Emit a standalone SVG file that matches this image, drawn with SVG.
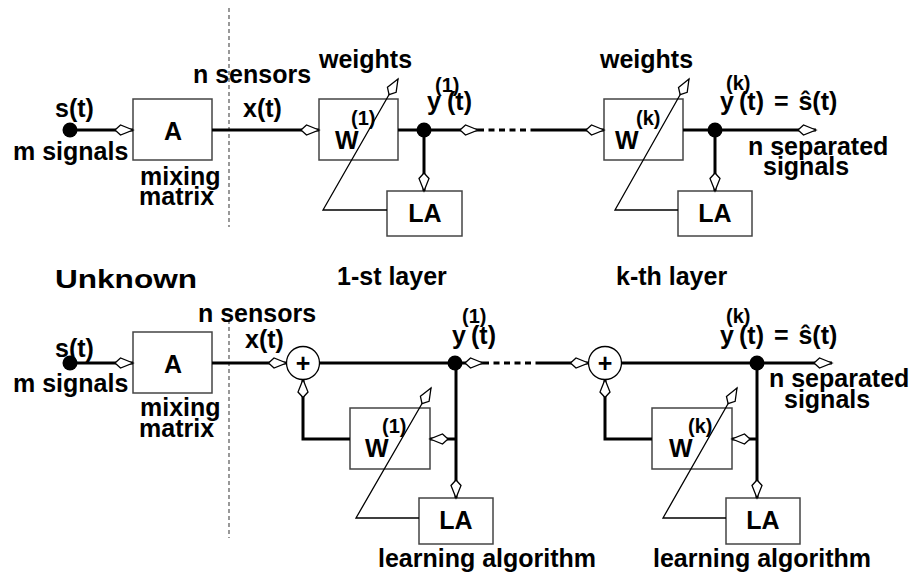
<svg xmlns="http://www.w3.org/2000/svg" width="912" height="577" viewBox="0 0 912 577">
<style>
text{font-family:"Liberation Sans",Arial,sans-serif;font-weight:bold;font-size:25px;fill:#000}
.sup{font-size:20px}
.mid{text-anchor:middle}
.box{fill:none;stroke:#444;stroke-width:1.5}
.wire{fill:none;stroke:#000;stroke-width:3}
.thin{fill:none;stroke:#000;stroke-width:1.3}
.dash{fill:none;stroke:#000;stroke-width:3;stroke-dasharray:6 4.5}
.sep{fill:none;stroke:#555;stroke-width:1.2;stroke-dasharray:4 3}
.dot{fill:#000}
.sum{fill:#fff;stroke:#000;stroke-width:1.3}
</style>
<defs>
<marker id="ah" markerUnits="userSpaceOnUse" markerWidth="22" markerHeight="12" viewBox="-20 -6 22 12" refX="0" refY="0" orient="auto" overflow="visible">
<path d="M0,0 L-12.5,-5 L-18,0 L-12.5,5 Z" fill="#fff" stroke="#000" stroke-width="1.3"/>
</marker>
</defs>
<rect width="912" height="577" fill="#fff"/>

<!-- separators -->
<line class="sep" x1="229" y1="8" x2="229" y2="227"/>
<line class="sep" x1="229" y1="320" x2="229" y2="538"/>

<!-- top row nodes -->
<g id="src-top">
<circle class="dot" cx="70" cy="130" r="7.5"/>
<text x="55" y="117">s(t)</text>
<text x="13" y="160">m signals</text>
</g>
<g id="A-top">
<rect class="box" x="133" y="99" width="79" height="61"/>
<text class="mid" x="173" y="140">A</text>
<text x="140" y="185">mixing</text>
<text x="139" y="205">matrix</text>
</g>
<g id="sensors-top">
<text x="193" y="83">n sensors</text>
<text x="243" y="117">x(t)</text>
</g>
<g id="W1-top">
<rect class="box" x="319" y="99" width="79" height="61"/>
<text x="335" y="149">W</text>
<text class="sup" x="351" y="125">(1)</text>
<text x="319" y="68">weights</text>
</g>
<g id="LA1-top">
<rect class="box" x="387" y="191" width="75" height="45"/>
<text class="mid" x="425" y="222">LA</text>
</g>
<g id="y1-top">
<text x="427" y="110">y<tspan class="sup" x="435" y="92">(1)</tspan><tspan x="447" y="110">(t)</tspan></text>
</g>
<g id="Wk-top">
<rect class="box" x="604" y="99" width="79" height="61"/>
<text x="615" y="149">W</text>
<text class="sup" x="636" y="125">(k)</text>
<text x="600" y="68">weights</text>
</g>
<g id="LAk-top">
<rect class="box" x="678" y="191" width="74" height="45"/>
<text class="mid" x="715" y="222">LA</text>
</g>
<g id="yk-top">
<text x="720" y="110">y<tspan class="sup" x="726" y="90">(k)</tspan><tspan x="739" y="110" word-spacing="3">(t) = ŝ(t)</tspan></text>
<text x="748" y="155">n separated</text>
<text x="763" y="175">signals</text>
</g>

<!-- labels between -->
<text x="55" y="288" font-size="28" textLength="142" lengthAdjust="spacingAndGlyphs">Unknown</text>
<text x="337" y="285">1-st layer</text>
<text x="616" y="285">k-th layer</text>

<!-- bottom row nodes -->
<g id="src-bot">
<circle class="dot" cx="70" cy="363" r="7.5"/>
<text x="55" y="357">s(t)</text>
<text x="13" y="392">m signals</text>
</g>
<g id="A-bot">
<rect class="box" x="133" y="332" width="79" height="61"/>
<text class="mid" x="173" y="373">A</text>
<text x="140" y="416">mixing</text>
<text x="139" y="437">matrix</text>
</g>
<g id="sensors-bot">
<text x="198" y="322">n sensors</text>
<text x="245" y="348">x(t)</text>
</g>
<g id="W1-bot">
<rect class="box" x="350" y="408" width="80" height="61"/>
<text x="365" y="457">W</text>
<text class="sup" x="382" y="433">(1)</text>
</g>
<g id="LA1-bot">
<rect class="box" x="419" y="498" width="74" height="46"/>
<text class="mid" x="456" y="529">LA</text>
<text x="378" y="567">learning algorithm</text>
</g>
<g id="y1-bot">
<text x="452" y="344">y<tspan class="sup" x="462" y="323">(1)</tspan><tspan x="471" y="344">(t)</tspan></text>
</g>
<g id="Wk-bot">
<rect class="box" x="652" y="408" width="80" height="61"/>
<text x="669" y="457">W</text>
<text class="sup" x="688" y="433">(k)</text>
</g>
<g id="LAk-bot">
<rect class="box" x="726" y="498" width="74" height="46"/>
<text class="mid" x="763" y="529">LA</text>
<text x="653" y="567">learning algorithm</text>
</g>
<g id="yk-bot">
<text x="720" y="344">y<tspan class="sup" x="726" y="323">(k)</tspan><tspan x="739" y="344" word-spacing="3">(t) = ŝ(t)</tspan></text>
<text x="769" y="387">n separated</text>
<text x="784" y="408">signals</text>
</g>

<!-- connectors -->
<g id="connectors">
<!-- top -->
<path class="wire" d="M70,130 H133" marker-end="url(#ah)"/>
<path class="wire" d="M212,130 H319" marker-end="url(#ah)"/>
<path class="wire" d="M398,130 H478" marker-end="url(#ah)"/>
<path class="dash" d="M478,130 H535"/>
<path class="wire" d="M535,130 H604" marker-end="url(#ah)"/>
<path class="wire" d="M424,130 V191" marker-end="url(#ah)"/>
<path class="thin" d="M387,210 H323 L398,79" marker-end="url(#ah)"/>
<path class="wire" d="M683,130 H816" marker-end="url(#ah)"/>
<path class="wire" d="M715,130 V191" marker-end="url(#ah)"/>
<path class="thin" d="M678,210 H615 L689,79" marker-end="url(#ah)"/>
<!-- bottom -->
<path class="wire" d="M70,363 H133" marker-end="url(#ah)"/>
<path class="wire" d="M212,363 H286.5" marker-end="url(#ah)"/>
<path class="wire" d="M319.5,363 H483" marker-end="url(#ah)"/>
<path class="dash" d="M483,363 H537"/>
<path class="wire" d="M537,363 H588.5" marker-end="url(#ah)"/>
<path class="wire" d="M456,363 V498" marker-end="url(#ah)"/>
<path class="wire" d="M456,439 H430" marker-end="url(#ah)"/>
<path class="wire" d="M350,439 H303 V379.5" marker-end="url(#ah)"/>
<path class="thin" d="M419,518 H356 L431,388" marker-end="url(#ah)"/>
<path class="wire" d="M621.5,363 H832" marker-end="url(#ah)"/>
<path class="wire" d="M757,363 V498" marker-end="url(#ah)"/>
<path class="wire" d="M757,439 H732" marker-end="url(#ah)"/>
<path class="wire" d="M652,439 H605 V379.5" marker-end="url(#ah)"/>
<path class="thin" d="M726,518 H663 L737,388" marker-end="url(#ah)"/>
</g>

<!-- junction dots and summing nodes -->
<g id="junctions">
<circle class="dot" cx="424" cy="130" r="7.5"/>
<circle class="dot" cx="715" cy="130" r="7.5"/>
<circle class="dot" cx="455" cy="363" r="7.5"/>
<circle class="dot" cx="757" cy="363" r="7.5"/>
</g>
<g id="sum1">
<circle class="sum" cx="303" cy="363" r="16.5"/>
<text class="mid" x="303" y="371.5">+</text>
</g>
<g id="sumk">
<circle class="sum" cx="605" cy="363" r="16.5"/>
<text class="mid" x="605" y="371.5">+</text>
</g>
</svg>
